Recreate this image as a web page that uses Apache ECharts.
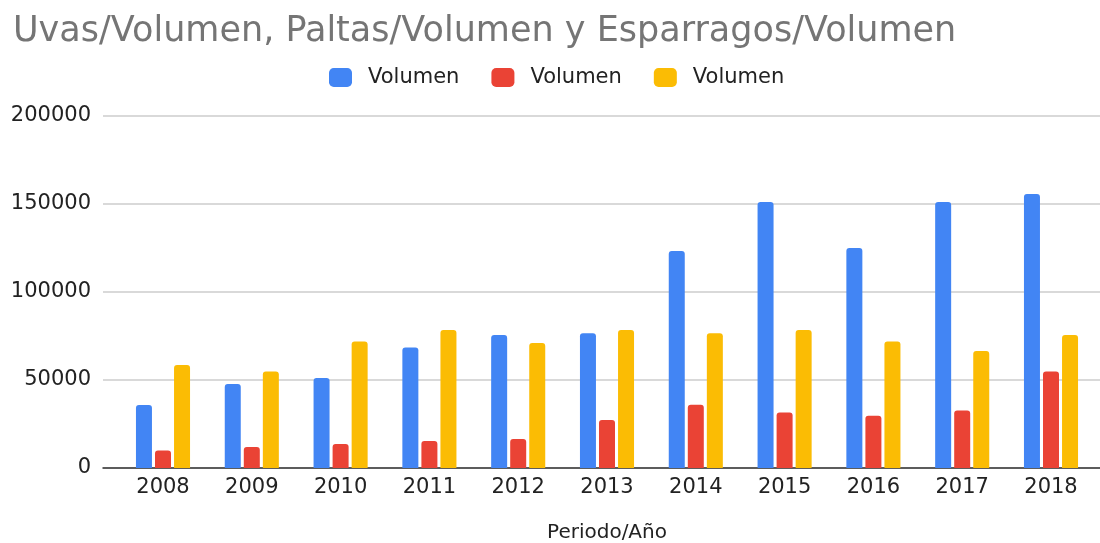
<!DOCTYPE html>
<html style="height: 100%">
<head>
    <meta charset="UTF-8">
    <title>Uvas, Paltas y Esparragos</title>
    <script src="https://cdn.jsdelivr.net/npm/echarts/dist/echarts.min.js"></script>
</head>
<body style="height: 100%; margin: 0">
    <div id="main" style="width: 1100px; height: 543px"></div>
    <script type="text/javascript">
        // datos
        var years = ['2008', '2009', '2010', '2011', '2012', '2013', '2014', '2015', '2016', '2017', '2018'];
        var uvas = [35800, 47700, 51100, 68500, 75500, 76500, 123300, 151100, 125000, 151100, 155700];
        var paltas = [10000, 11900, 13600, 15300, 16500, 27300, 36000, 31600, 29700, 32600, 54900];
        var esparragos = [58500, 54900, 71900, 78400, 71000, 78400, 76500, 78400, 71900, 66500, 75500];
        var yTicks = [0, 50000, 100000, 150000, 200000];

        var font = 'DejaVu Sans';
        var myChart = echarts.init(document.getElementById('main'));

        // los tres se llaman "Volumen": se distinguen con espacios de ancho cero
        var names = ['Volumen', 'Volumen\u200b', 'Volumen\u200b\u200b'];

        var option = {
            animation: false,
            title: {
                text: 'Uvas/Volumen, Paltas/Volumen y Esparragos/Volumen',
                left: 8,
                top: 9,
                textStyle: { fontFamily: font, fontSize: 35, fontWeight: 'normal', color: '#757575' }
            },
            legend: {
                data: names,
                left: 324,
                top: 62,
                itemWidth: 23,
                itemHeight: 19,
                itemGap: 32,
                icon: 'roundRect',
                formatter: function () { return 'Volumen'; },
                textStyle: { fontFamily: font, fontSize: 21, color: '#222', padding: [0, 0, 0, 11] }
            },
            grid: [
                { left: 103, right: 0, top: 116, bottom: 75, outerBoundsMode: 'none' },
                { left: 118.6, right: 4.6, top: 116, bottom: 75, outerBoundsMode: 'none' }
            ],
            xAxis: [
                {
                    gridIndex: 0, type: 'value', min: 0, max: 1,
                    axisLine: { show: true, onZero: false, lineStyle: { color: '#333', width: 1.5 } },
                    axisTick: { show: false }, axisLabel: { show: false }, splitLine: { show: false }
                },
                {
                    gridIndex: 1, type: 'category', data: years,
                    axisLine: { show: false }, axisTick: { show: false },
                    axisLabel: { fontFamily: font, fontSize: 21, color: '#222', margin: 9 },
                    name: 'Periodo/Año', nameLocation: 'middle', nameGap: 55,
                    nameTextStyle: { fontFamily: font, fontSize: 20, color: '#222' }
                }
            ],
            yAxis: [
                {
                    gridIndex: 0, type: 'value',
                    min: yTicks[0], max: yTicks[yTicks.length - 1], interval: yTicks[1] - yTicks[0],
                    axisLine: { show: false }, axisTick: { show: false },
                    axisLabel: {
                        fontFamily: font, fontSize: 21, color: '#222', margin: 12,
                        formatter: function (v) { return String(v); }
                    },
                    splitLine: { lineStyle: { color: '#cccccc', width: 1.5 } }
                },
                {
                    gridIndex: 1, type: 'value',
                    min: yTicks[0], max: yTicks[yTicks.length - 1], show: false
                }
            ],
            series: [
                { name: names[0], type: 'bar', data: uvas, xAxisIndex: 1, yAxisIndex: 1,
                  barWidth: 16, barGap: '19%', itemStyle: { color: '#4285F4', borderRadius: [3, 3, 0, 0] } },
                { name: names[1], type: 'bar', data: paltas, xAxisIndex: 1, yAxisIndex: 1,
                  barWidth: 16, barGap: '19%', itemStyle: { color: '#EA4335', borderRadius: [3, 3, 0, 0] } },
                { name: names[2], type: 'bar', data: esparragos, xAxisIndex: 1, yAxisIndex: 1,
                  barWidth: 16, barGap: '19%', itemStyle: { color: '#FBBC04', borderRadius: [3, 3, 0, 0] } }
            ]
        };

        myChart.setOption(option);
    </script>
</body>
</html>
